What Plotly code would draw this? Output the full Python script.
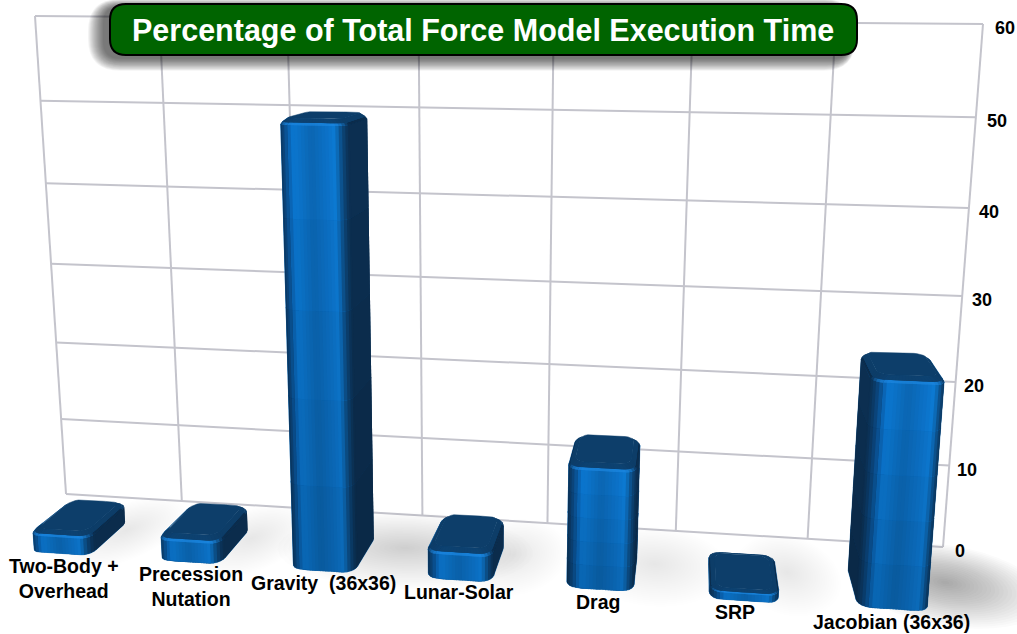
import math
import numpy as np
import plotly.graph_objects as go

categories = ["Two-Body +<br>Overhead", "Precession<br>Nutation", "Gravity  (36x36)", "Lunar-Solar", "Drag", "SRP", "Jacobian (36x36)"]
values = [2.8, 3.3, 50.0, 3.8, 14.3, 1.1, 25.3]
z_ticks = [0, 10, 20, 30, 40, 50, 60]
title_text = "Percentage of Total Force Model Execution Time"

# ---- perspective scale: chart space (X category, Y depth, Z value) -> axis units
WALL = {(0, 0): (66, 494), (7, 0): (943, 547), (0, 60): (35, 16), (7, 60): (983, 24)}
VP = (695.0, 7.0)
K = 0.105
A, B = [], []
for (X, Z), (u, v) in WALL.items():
    A.append([X, Z, 1, 0, 0, 0, -u * X, -u * Z]); B.append(u)
    A.append([0, 0, 0, X, Z, 1, -v * X, -v * Z]); B.append(v)
h = np.linalg.solve(np.array(A, float), np.array(B, float))
H = np.array([[h[0], h[1], h[2]], [h[3], h[4], h[5]], [h[6], h[7], 1.0]])

def project(X, Y, Z):
    U, V, W = H @ np.array([X, Z, 1.0])
    d = K * Y
    return (U - d * VP[0]) / (W - d), (V - d * VP[1]) / (W - d)

def mix(c1, c2, t):
    t = max(0.0, min(1.0, t))
    return tuple(c1[i] + (c2[i] - c1[i]) * t for i in range(3))

def rgb(c):
    return "rgb(%d,%d,%d)" % tuple(int(round(min(255, x))) for x in c)

def ramp(stops, s):
    for (s0, c0), (s1, c1) in zip(stops, stops[1:]):
        if s <= s1:
            return mix(c0, c1, (s - s0) / (s1 - s0))
    return stops[-1][1]

FRONT = [(0.0, (9, 88, 160)), (0.12, (10, 112, 196)), (0.5, (10, 96, 168)),
         (0.85, (11, 108, 190)), (1.0, (12, 116, 200))]
SIDE = (11, 44, 76)
TOP = (13, 62, 106)
HILITE = (30, 140, 232)
BAR_W = 0.47
Y_BACK, Y_FRONT = 0.42, 1.0
SHADOW_ALPHA = [0.002, 0.002, 0.006, 0.003, 0.005, 0.004, 0.018]
LABEL_DX = [4, 2, 2, 0, -1, -9, -2]

def bar_x(i):
    return 0.53 + i * 0.99

def perimeter(x0, x1, y0, y1, rx, ry):
    """Rounded footprint, walked round; each point carries its outward normal and front-face parameter."""
    pts = []
    n_f, n_c, n_s = 14, 5, 1
    for i in range(n_f + 1):
        s = i / n_f
        pts.append((x0 + rx + (x1 - x0 - 2 * rx) * s, y1, 0.0, s))
    for i in range(1, n_c + 1):
        a = i / n_c * math.pi / 2
        pts.append((x1 - rx + rx * math.sin(a), y1 - ry + ry * math.cos(a), a, 1.0))
    for i in range(1, n_s + 1):
        pts.append((x1, y1 - ry - (y1 - y0 - 2 * ry) * i / n_s, math.pi / 2, 1.0))
    for i in range(1, n_c + 1):
        a = i / n_c * math.pi / 2
        pts.append((x1 - rx + rx * math.cos(a), y0 + ry - ry * math.sin(a), math.pi / 2 + a, 1.0))
    for i in range(1, n_f + 1):
        pts.append((x1 - rx - (x1 - x0 - 2 * rx) * i / n_f, y0, math.pi, 0.5))
    for i in range(1, n_c + 1):
        a = i / n_c * math.pi / 2
        pts.append((x0 + rx - rx * math.sin(a), y0 + ry - ry * math.cos(a), -math.pi + a, 0.0))
    for i in range(1, n_s + 1):
        pts.append((x0, y0 + ry + (y1 - y0 - 2 * ry) * i / n_s, -math.pi / 2, 0.0))
    for i in range(1, n_c):
        a = i / n_c * math.pi / 2
        pts.append((x0 + rx - rx * math.cos(a), y1 - ry + ry * math.sin(a), -math.pi / 2 + a, 0.0))
    pts.append(pts[0])
    return pts

def body_colour(a, s):
    c = ramp(FRONT, s)
    return mix(c, SIDE, abs(math.sin(a)) ** 0.8) if abs(a) <= math.pi / 2 else SIDE

def bar_polygons(X, value):
    hw = BAR_W / 2
    x0, x1, y0, y1 = X - hw, X + hw, Y_BACK, Y_FRONT
    rx, ry = 0.07, 0.09
    bev = min(0.65, value * 0.2)
    zb, zt = min(0.35, value * 0.1), value - bev
    n_body = 5 if value > 8 else 1
    rings = [(0.035, 0.0, "base")]
    for k in range(n_body + 1):
        rings.append((0.0, zb + (zt - zb) * k / n_body, "body"))
    rings += [(0.01, value - bev * 0.6, "hi"), (0.04, value, "bevel")]
    quads, under = [], []
    def quad(pa, pb, ia, ib):
        return [project(pa[ia][0], pa[ia][1], pa[-1]), project(pa[ib][0], pa[ib][1], pa[-1]),
                project(pb[ib][0], pb[ib][1], pb[-1]), project(pb[ia][0], pb[ia][1], pb[-1])]
    for (i0, z0, _), (i1, z1, kind) in zip(rings, rings[1:]):
        p0 = perimeter(x0 + i0, x1 - i0, y0 + i0, y1 - i0, rx, ry) + [z0]
        p1 = perimeter(x0 + i1, x1 - i1, y0 + i1, y1 - i1, rx, ry) + [z1]
        n = len(p0) - 2
        visible = []
        for j in range(n):
            q = quad(p0, p1, j, j + 1)
            area = sum(q[k][0] * q[(k + 1) % 4][1] - q[(k + 1) % 4][0] * q[k][1] for k in range(4))
            visible.append(area < 0)
        for j in range(n):
            if not visible[j]:
                continue
            a = (p0[j][2] + p0[j + 1][2]) / 2 if abs(p0[j][2] - p0[j + 1][2]) < 2 else p0[j][2]
            s = (p0[j][3] + p0[j + 1][3]) / 2
            col = body_colour(a, s)
            if kind == "base":
                col = mix(col, (8, 40, 80), 0.35)
            elif kind == "body":
                t = (z1 - zb) / max(zt - zb, 1e-6)
                f = 0.9 + 0.16 * t if n_body > 1 else 1.0
                col = tuple(c * f for c in col)
            elif abs(a) > math.pi / 2:
                col = TOP
            elif kind == "hi":
                col = mix(col, HILITE, 0.65 * math.cos(a) ** 2)
            else:
                col = mix(col, TOP, 0.92)
            # run each strip under its neighbour so no seam shows between them
            nxt = j + 2 if (j + 1 < n and visible[j + 1]) else j + 1
            quads.append((col, quad(p0, p1, j, nxt)))
            if abs(a) <= math.pi / 2:
                under.append(quad(p0, p1, j, j + 1))
    cap_ins = rings[-1][0]
    cap = perimeter(x0 + cap_ins, x1 - cap_ins, y0 + cap_ins, y1 - cap_ins, rx, ry)
    return quads, under, [project(p[0], p[1], value) for p in cap]

fig = go.Figure()

def poly_trace(polys, fill, line=None, lw=0.0):
    xs, ys = [], []
    for q in polys:
        xs += [p[0] for p in q] + [q[0][0], None]
        ys += [p[1] for p in q] + [q[0][1], None]
    fig.add_trace(go.Scatter(x=xs, y=ys, mode="lines", fill="toself", fillcolor=fill,
                             line=dict(color=line or "rgba(0,0,0,0)", width=lw), hoverinfo="skip", showlegend=False))

GRID = "rgb(196,196,204)"
def grid_line(pts):
    fig.add_trace(go.Scatter(x=[p[0] for p in pts], y=[p[1] for p in pts], mode="lines",
                             line=dict(color=GRID, width=2), hoverinfo="skip", showlegend=False))

for z in z_ticks:
    grid_line([project(0, 0, z), project(7, 0, z)])
for i in range(len(categories) + 1):
    grid_line([project(i, 0, 0), project(i, 0, 60)])

# soft floor shadows
for i, v in enumerate(values):
    cx = i + 0.5 + 0.30 + 0.004 * v
    rx = 0.36 + 0.012 * v
    for layer in range(24):
        f = 1 - layer / 24
        ring = []
        for t in np.linspace(0, 2 * math.pi, 40):
            ring.append(project(cx + rx * f * math.cos(t), 0.55 + 0.6 * f * math.sin(t), 0))
        poly_trace([ring], "rgba(30,30,30,%.4f)" % SHADOW_ALPHA[i])

for i, v in enumerate(values):
    quads, under, cap = bar_polygons(bar_x(i), v)
    poly_trace(under, "rgb(11,92,160)", line="rgb(11,92,160)", lw=0.5)
    for col, q in quads:
        poly_trace([q], rgb(col))
    poly_trace([cap], rgb(TOP), line=rgb(TOP), lw=0.5)

annotations = []
for z in z_ticks:
    px, py = project(7, 0, z)
    annotations.append(dict(x=px + 17 + z * 0.08, y=py + 4, text="<b>%d</b>" % z, showarrow=False, xanchor="center", yanchor="middle",
                            font=dict(family="Liberation Sans", size=18, color="black")))
for i, c in enumerate(categories):
    px, py = project(bar_x(i), Y_FRONT, 0)
    annotations.append(dict(x=px + LABEL_DX[i], y=py - 3, text="<b>%s</b>" % c, showarrow=False, xanchor="center", yanchor="top",
                            align="center", font=dict(family="Liberation Sans", size=19.5, color="black")))

def rrect(x0, y0, x1, y1, r):
    return (f"M{x0+r},{y0} L{x1-r},{y0} Q{x1},{y0} {x1},{y0+r} L{x1},{y1-r} Q{x1},{y1} {x1-r},{y1} "
            f"L{x0+r},{y1} Q{x0},{y1} {x0},{y1-r} L{x0},{y0+r} Q{x0},{y0} {x0+r},{y0} Z")

shapes = []
for g in range(16, 0, -1):
    shapes.append(dict(type="path", xref="x", yref="y", layer="above",
                       path=rrect(110 - 6 - g, 4 + 3 - g * 0.5, 857 - 8 + g * 0.4, 55 + 3 + g * 0.8, 16 + g),
                       fillcolor="rgba(0,0,0,0.045)", line=dict(width=0)))
shapes.append(dict(type="path", xref="x", yref="y", layer="above", path=rrect(110, 4, 857, 55, 16),
                   fillcolor="#006400", line=dict(color="black", width=2)))
annotations.append(dict(x=483, y=30, text="<b>%s</b>" % title_text, showarrow=False, xanchor="center", yanchor="middle",
                        font=dict(family="Liberation Sans", size=30.5, color="white")))

fig.update_layout(width=1017, height=634, margin=dict(l=0, r=0, t=0, b=0), paper_bgcolor="white", plot_bgcolor="white",
                  showlegend=False, shapes=shapes, annotations=annotations,
                  xaxis=dict(range=[0, 1017], visible=False, fixedrange=True),
                  yaxis=dict(range=[634, 0], visible=False, fixedrange=True))
fig.write_html("out.html", config=dict(displayModeBar=False),
               post_script="document.body.style.margin='0';document.body.style.overflow='hidden';")
